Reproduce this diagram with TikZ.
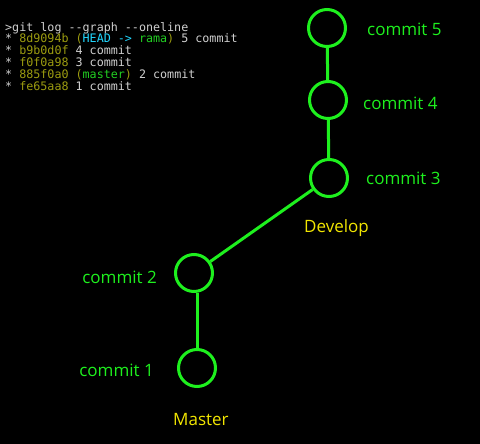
\documentclass[tikz,border=0pt]{standalone}
\usepackage{fontspec}
\setmainfont{Open Sans}
\newfontfamily\termfont{DejaVu Sans Mono}
\usetikzlibrary{positioning}
\definecolor{cgreen}{HTML}{1EF01E}
\definecolor{cyellow}{HTML}{F2E600}
\definecolor{colive}{HTML}{9C9C10}
\definecolor{ccyan}{HTML}{22D8FF}
\definecolor{cterm}{HTML}{D0D0D0}
\definecolor{cref}{HTML}{22D022}
\tikzset{
  commit/.style={circle, draw=cgreen, line width=3pt, minimum size=37pt, inner sep=0pt},
  link/.style={draw=cgreen, line width=3pt},
  clabel/.style={text=cgreen, font=\fontsize{17}{20}\selectfont, inner sep=0pt},
  branch/.style={text=cyellow, font=\fontsize{17}{20}\selectfont, inner sep=0pt},
  term/.style={text=cterm, font=\termfont\fontsize{11.7}{11.8}\selectfont, align=left, inner sep=0pt},
}
\newcommand{\hash}[1]{\textcolor{colive}{#1}}

\begin{document}
\begin{tikzpicture}[x=1pt, y=-1pt]
  \useasboundingbox[fill=black] (0,0) rectangle (480,444);
  % git output
  \node[term, anchor=north west] (log) at (5,22) {%
    >git log -\kern0pt-graph -\kern0pt-oneline\\
    * \hash{8d9094b (}\textcolor{ccyan}{HEAD -> }\textcolor{cref}{rama}\hash{)} 5 commit\\
    * \hash{b9b0d0f} 4 commit\\
    * \hash{f0f0a98} 3 commit\\
    * \hash{885f0a0 (}\textcolor{cref}{master}\hash{)} 2 commit\\
    * \hash{fe65aa8} 1 commit};
  % commits
  \node[commit] (c5) at (327,28) {};
  \node[commit] (c4) at (328,100) {};
  \node[commit] (c3) at (329,178) {};
  \node[commit] (c2) at (194,273) {};
  \node[commit] (c1) at (197,368) {};
  \draw[link] (c5) -- (c4);
  \draw[link] (c4) -- (c3);
  \draw[link] (c3) -- (c2);
  \draw[link] (c1.north) -- (c1.north |- c2.south);
  % labels
  \node[clabel, anchor=base west] (l5) at (367,36) {commit 5};
  \node[clabel, anchor=base west] (l4) at (363,110) {commit 4};
  \node[clabel, anchor=base west] (l3) at (366,185) {commit 3};
  \node[clabel, anchor=base east] (l2) at (157,283) {commit 2};
  \node[clabel, anchor=base east] (l1) at (154,376) {commit 1};
  \node[branch, anchor=base west] (dev) at (304,233) {Develop};
  \node[branch, anchor=base west] (mas) at (173,425) {Master};
\end{tikzpicture}
\end{document}
